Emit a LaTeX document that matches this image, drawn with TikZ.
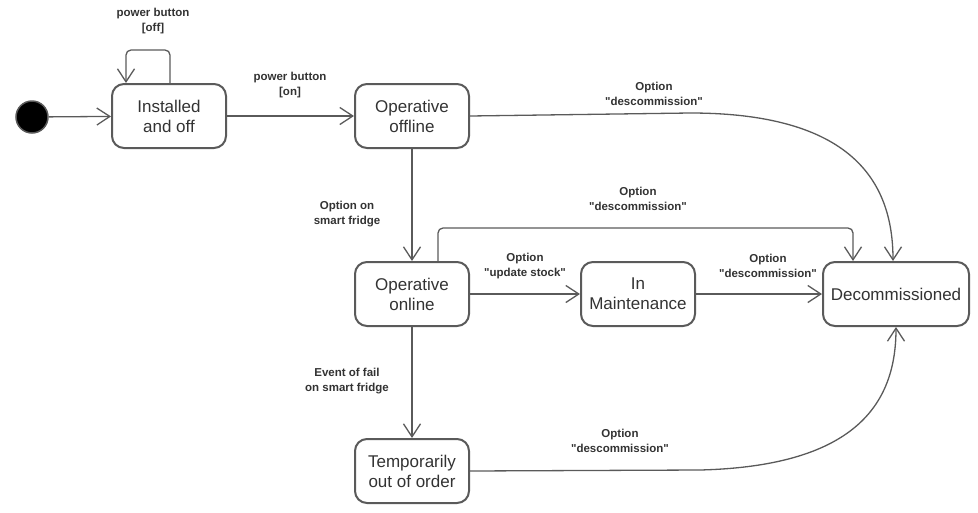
\documentclass[tikz,border=0pt]{standalone}
\usepackage{fontspec}
\setmainfont{Liberation Sans}[Ligatures=TeXOff]
\usetikzlibrary{arrows.meta}
\definecolor{edge}{HTML}{5A5A5A}
\definecolor{txt}{HTML}{333333}
\begin{document}
\begin{tikzpicture}[x=1pt,y=-1pt,
  state/.style={draw=edge, line width=2pt, rounded corners=12pt, fill=white,
    minimum width=114pt, minimum height=64pt, align=center, text=txt,
    font=\fontsize{17}{20}\selectfont, inner sep=0pt},
  lbl/.style={align=center, text=txt, font=\bfseries\fontsize{11.5}{14.5}\selectfont, inner sep=0pt},
  conn/.style={draw=edge, line width=1.3pt, -{Straight Barb[length=13pt,width=17pt,line width=1.3pt]}},
  line/.style={draw=edge, line width=1.3pt}]
\useasboundingbox (0,0) rectangle (978,512);
\node[circle, fill=black, draw=edge, line width=1.5pt, minimum size=32pt, inner sep=0pt] (init) at (32,117) {};
\node[state] (inst) at (169,116) {Installed\\and off};
\node[state] (off) at (412,116) {Operative\\offline};
\node[state] (onl) at (412,294) {Operative\\online};
\node[state] (mnt) at (638,294) {In\\Maintenance};
\node[state, minimum width=146pt] (dec) at (896,294) {Decommissioned};
\node[state] (tmp) at (412,471) {Temporarily\\out of order};

\coordinate (loopA) at (170,50);
\coordinate (loopB) at (126,50);
\coordinate (c1) at (690,113);
\coordinate (c2) at (700,470);
\coordinate (mA) at (438,228);
\coordinate (mB) at (853,228);

\draw[conn] (init) -- (inst);
\draw[conn, rounded corners=5pt] (inst.north -| loopA) -- (loopA) -- (loopB) -- (inst.north -| loopB);
\draw[conn] (inst) -- (off);
\draw[conn] (off.east) -- (c1) .. controls (850,113) and (893,180) .. (dec.north -| 893,0);
\draw[conn] (off) -- (onl);
\draw[conn, rounded corners=5pt] (onl.north -| mA) -- (mA) -- (mB) -- (dec.north -| mB);
\draw[conn] (onl) -- (mnt);
\draw[conn] (mnt) -- (dec);
\draw[conn] (onl) -- (tmp);
\draw[conn] (tmp.east) -- (c2) .. controls (860,466) and (896,400) .. (dec.south);

\node[lbl] (l1) at (153,21) {power button\\{[}off{]}};
\node[lbl] (l2) at (290,85) {power button\\{[}on{]}};
\node[lbl] (l3) at (654,94) {Option\\"descommission"};
\node[lbl] (l4) at (347,214) {Option on\\smart fridge};
\node[lbl] (l5) at (638,199) {Option\\"descommission"};
\node[lbl] (l6) at (525,266) {Option\\"update stock"};
\node[lbl] (l7) at (768,266) {Option\\"descommission"};
\node[lbl] (l8) at (347,381) {Event of fail\\on smart fridge};
\node[lbl] (l9) at (620,441) {Option\\"descommission"};
\end{tikzpicture}
\end{document}
